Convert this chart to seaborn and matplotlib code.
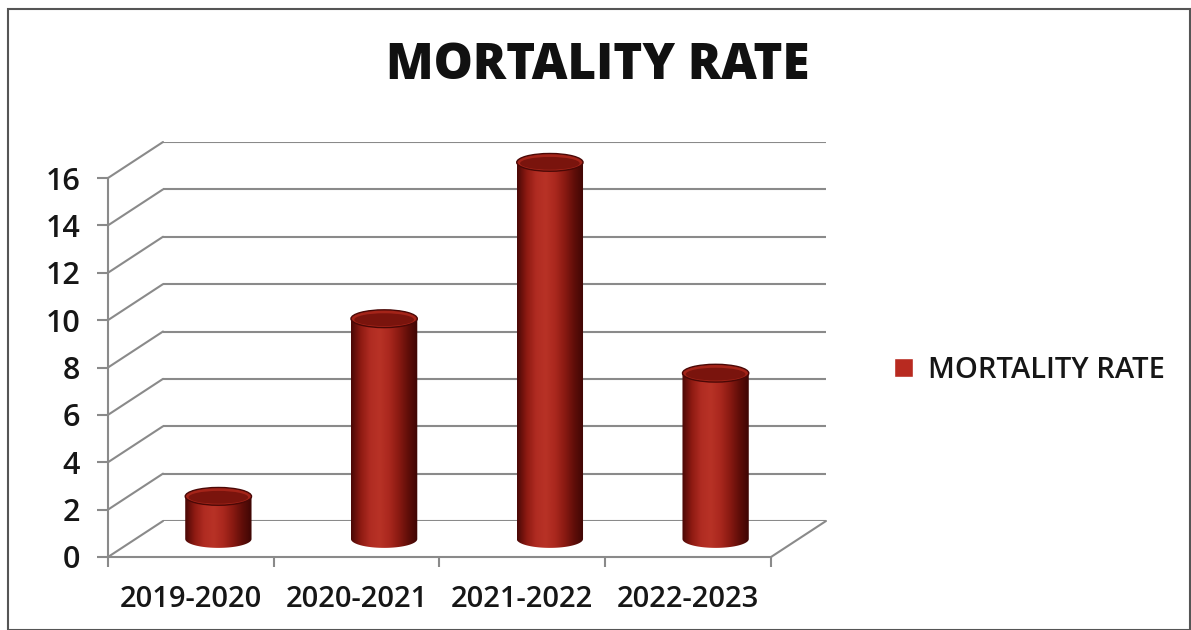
import numpy as np
import pandas as pd
import matplotlib
matplotlib.use('Agg')
import matplotlib.pyplot as plt
import seaborn as sns
from matplotlib.patches import Ellipse, PathPatch, Patch, Rectangle, ConnectionPatch
from matplotlib.path import Path
from matplotlib.colors import LinearSegmentedColormap

# data
years = ['2019-2020', '2020-2021', '2021-2022', '2022-2023']
rates = [1.8, 9.3, 15.9, 7.0]
yticks = [0, 2, 4, 6, 8, 10, 12, 14, 16]

df = pd.DataFrame({'year': years, 'rate': rates})

sns.set_style('white')
plt.rcParams['font.family'] = ['Open Sans', 'DejaVu Sans']

W, H = 1191, 630
fig = plt.figure(figsize=(W / 100, H / 100), dpi=100)

# front plane box in pixels (left, bottom y, right, top y) and depth offset
fx0, fy0, fx1, fy1 = 108, 557, 771, 178
dx, dy = 55, -36
ymax = 16
unit = (fy0 - fy1) / ymax

def box(ox, oy, pad=0):
    # pad = extra data units added below and above
    return [(fx0 + ox) / W, (H - (fy0 + oy + pad * unit)) / H,
            (fx1 - fx0) / W, (fy0 - fy1 + 2 * pad * unit) / H]

ax_back = fig.add_axes(box(dx, dy))
ax_mid = fig.add_axes(box(dx / 2, dy / 2, pad=1))
ax_front = fig.add_axes(box(0, 0))

for a in (ax_back, ax_front):
    a.set_xlim(-0.5, len(years) - 0.5)
    a.set_ylim(0, ymax)
    a.patch.set_alpha(0)

grid_col = '#8a8a8a'

# back wall gridlines
ax_back.set_yticks(yticks)
ax_back.set_yticklabels([])
ax_back.set_xticks([])
ax_back.tick_params(left=False)
for s in ax_back.spines.values():
    s.set_visible(False)
for v in yticks:
    ax_back.axhline(v, color=grid_col, lw=1.5)

# side wall diagonals and floor edge
for v in yticks:
    fig.add_artist(ConnectionPatch(xyA=(-0.5, v), coordsA=ax_front.transData,
                                   xyB=(-0.5, v), coordsB=ax_back.transData,
                                   color=grid_col, lw=1.5))
fig.add_artist(ConnectionPatch(xyA=(len(years) - 0.5, 0), coordsA=ax_front.transData,
                               xyB=(len(years) - 0.5, 0), coordsB=ax_back.transData,
                               color=grid_col, lw=1.5))

# cylinders
sns.barplot(data=df, x='year', y='rate', color='#b0281e', width=0.4, ax=ax_mid)
ax_mid.axis('off')
ax_mid.patch.set_alpha(0)

cmap = LinearSegmentedColormap.from_list(
    'cyl', ['#4a0806', '#8e1a12', '#b02c22', '#b83226', '#aa281e', '#8a1a12', '#600e09', '#3e0604'])
grad = np.linspace(0, 1, 200).reshape(1, -1)
e = 0.75  # ellipse height in data units

for p in list(ax_mid.patches):
    x0, w, h = p.get_x(), p.get_width(), p.get_height()
    cx = x0 + w / 2
    p.set_visible(False)
    t = np.linspace(np.pi, 2 * np.pi, 60)
    verts = [(x0, h), (x0, 0)] + list(zip(cx + w / 2 * np.cos(t), e / 2 * np.sin(t))) + [(x0 + w, h), (x0, h)]
    body = PathPatch(Path(verts), facecolor='none', edgecolor='none')
    ax_mid.add_patch(body)
    im = ax_mid.imshow(grad, cmap=cmap, aspect='auto', extent=[x0, x0 + w, -e, h],
                       interpolation='bicubic', zorder=3)
    im.set_clip_path(body)
    ax_mid.add_patch(Ellipse((cx, h), w, e, facecolor='#a42419', edgecolor='#4a0806',
                             lw=1.0, zorder=4))
    ax_mid.add_patch(Ellipse((cx, h - 0.04), w * 0.9, e * 0.72, facecolor='#7a140d',
                             edgecolor='none', zorder=4))
ax_mid.set_xlim(-0.5, len(years) - 0.5)
ax_mid.set_ylim(-1, ymax + 1)

# front axes: y axis and category axis
ax_front.set_yticks(yticks)
ax_front.set_xticks(np.arange(len(years) + 1) - 0.5, minor=True)
ax_front.set_xticks(np.arange(len(years)))
ax_front.set_xticklabels(years, fontsize=21, fontweight='semibold', color='#161616')
ax_front.set_yticklabels([str(v) for v in yticks], fontsize=22, fontweight='semibold', color='#161616')
ax_front.tick_params(axis='x', which='major', length=0, pad=20)
ax_front.tick_params(axis='x', which='minor', length=7, width=1.5, color=grid_col, direction='out')
ax_front.tick_params(axis='y', length=8, width=1.5, color=grid_col, direction='out', pad=12)
ax_front.xaxis.set_ticks_position('bottom')
ax_front.yaxis.set_ticks_position('left')
for k in ('top', 'right'):
    ax_front.spines[k].set_visible(False)
for k in ('left', 'bottom'):
    ax_front.spines[k].set_color(grid_col)
    ax_front.spines[k].set_linewidth(1.5)

fig.text(598 / W, 1 - 66 / H, 'MORTALITY RATE', ha='center', va='center',
         fontsize=35.5, fontweight='heavy', color='#111111')

fig.legend(handles=[Patch(facecolor='#b82a20', label='MORTALITY RATE')],
           loc='center left', bbox_to_anchor=(868 / W, 1 - 370 / H), frameon=False,
           prop={'size': 21, 'weight': 'semibold'}, labelcolor='#161616',
           handlelength=0.65, handleheight=0.65, handletextpad=0.5)

# outer frame
fig.add_artist(Rectangle((8 / W, 0), (1190 - 8) / W, (H - 9) / H, transform=fig.transFigure,
                         fill=False, edgecolor='#555555', lw=1.5))

fig.savefig('out.png', dpi=100)
